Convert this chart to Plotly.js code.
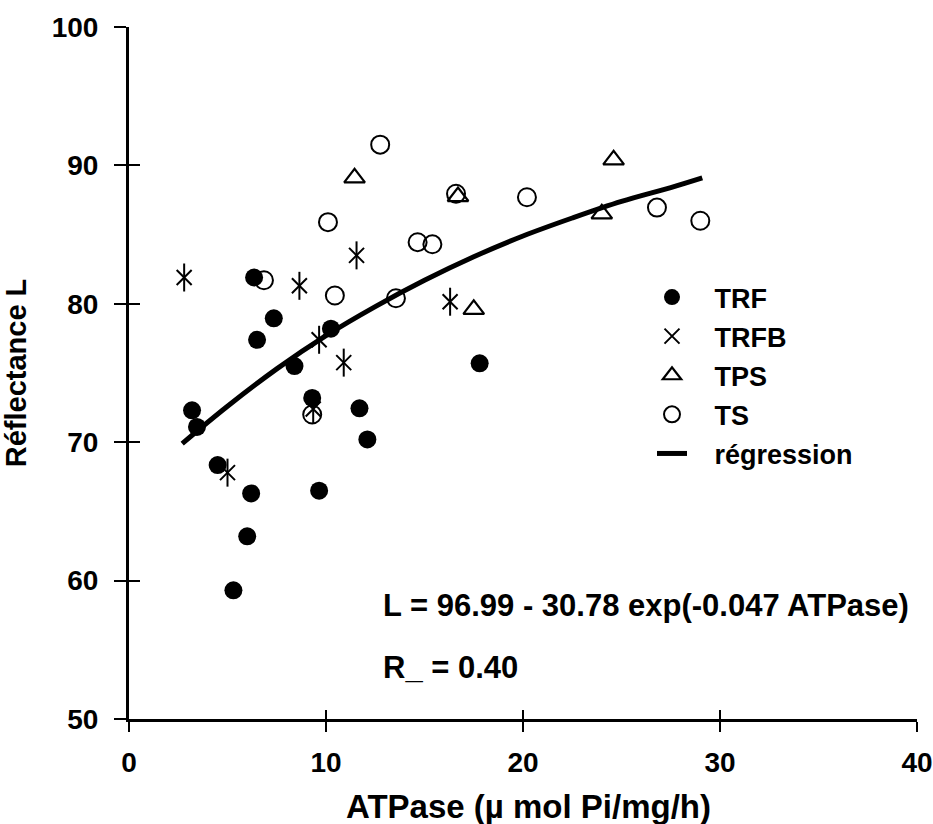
<!DOCTYPE html>
<html>
<head>
<meta charset="utf-8">
<script src="https://cdn.plot.ly/plotly-3.0.1.min.js"></script>
<style>html,body{margin:0;padding:0;background:#fff;}#chart{width:933px;height:824px;}</style>
</head>
<body>
<div id="chart"></div>
<script>
// TRF (filled circles)
const trfX = [3.2, 3.45, 4.5, 5.3, 6.0, 6.2, 6.35, 6.5, 7.35, 8.4, 9.3, 9.65, 10.25, 11.7, 12.1, 17.8];
const trfY = [72.3, 71.1, 68.35, 59.3, 63.2, 66.3, 81.9, 77.4, 78.95, 75.5, 73.2, 66.5, 78.2, 72.45, 70.2, 75.7];
// TRFB (asterisks)
const trfbX = [2.8, 5.0, 8.65, 9.35, 9.65, 10.9, 11.55, 16.3];
const trfbY = [81.9, 67.8, 81.3, 72.4, 77.4, 75.75, 83.5, 80.15];
// TPS (open triangles)
const tpsX = [11.45, 16.7, 17.5, 24.0, 24.6];
const tpsY = [89.1, 87.75, 79.6, 86.5, 90.4];
// TS (open circles)
const tsX = [6.85, 9.3, 10.1, 10.45, 12.75, 13.55, 14.65, 15.4, 16.6, 20.2, 26.8, 29.0];
const tsY = [81.7, 72.0, 85.9, 80.6, 91.5, 80.4, 84.45, 84.3, 87.95, 87.7, 86.95, 86.0];
// regression curve, points
const regX = [2.7, 5, 7.5, 10, 12.5, 15, 17.5, 20, 22.5, 25, 27.5, 29.1];
const regY = [69.9, 72.6, 75.3, 77.7, 79.8, 81.7, 83.4, 84.9, 86.2, 87.4, 88.4, 89.1];

const xTicks = [0, 10, 20, 30, 40];
const yTicks = [50, 60, 70, 80, 90, 100];
const seriesNames = ['TRF', 'TRFB', 'TPS', 'TS', 'r\u00e9gression'];
const xTitle = 'ATPase (\u00b5 mol Pi/mg/h)';
const yTitle = 'R\u00e9flectance L';
const eqText = 'L = 96.99 - 30.78 exp(-0.047 ATPase)';
const rText = 'R_ = 0.40';

const FONT = 'Arial, "Liberation Sans", sans-serif';
const pad = '\u00a0\u00a0\u00a0';
const b = s => '<b>' + s + '</b>';

const traces = [
  {x: trfX, y: trfY, mode: 'markers', type: 'scatter', name: b(pad + seriesNames[0]), legendgroup: 'a',
   marker: {symbol: 'circle', size: 18, color: '#000'}},
  {x: trfbX, y: trfbY, mode: 'markers', type: 'scatter', name: b(pad + seriesNames[1]), legendgroup: 'b',
   marker: {symbol: 'x-thin-open', size: 15, color: '#000', line: {color: '#000', width: 2}}},
  {x: trfbX, y: trfbY, mode: 'markers', type: 'scatter', name: seriesNames[1], legendgroup: 'b', showlegend: false,
   marker: {symbol: 'line-ns-open', size: 20, color: '#000', line: {color: '#000', width: 2}}},
  {x: tpsX, y: tpsY, mode: 'markers', type: 'scatter', name: b(pad + seriesNames[2]), legendgroup: 'c',
   marker: {symbol: 'triangle-up-open', size: 18, color: '#000', line: {color: '#000', width: 2.2}}},
  {x: tsX, y: tsY, mode: 'markers', type: 'scatter', name: b(pad + seriesNames[3]), legendgroup: 'd',
   marker: {symbol: 'circle-open', size: 18, color: '#000', line: {color: '#000', width: 2}}},
  {x: regX, y: regY, mode: 'lines', type: 'scatter', name: b(pad + seriesNames[4]), legendgroup: 'e',
   line: {color: '#000', width: 5, shape: 'spline'}},
  // empty trace that carries the overlay axes (inner half of the crossing ticks)
  {x: [], y: [], xaxis: 'x2', yaxis: 'y2', mode: 'markers', type: 'scatter', showlegend: false, hoverinfo: 'skip'}
];

const axisCommon = {showgrid: false, zeroline: false, tickcolor: '#000', tickwidth: 2};

const layout = {
  width: 933, height: 824,
  margin: {l: 129, r: 16, t: 27, b: 105},
  paper_bgcolor: '#fff', plot_bgcolor: '#fff',
  font: {family: FONT, color: '#000', size: 22},
  showlegend: true,
  legend: {x: (652 - 129) / 788, y: 1 - (273 - 27) / 692, xanchor: 'left', yanchor: 'top',
           font: {family: FONT, size: 27, color: '#000', weight: 700},
           bgcolor: 'rgba(0,0,0,0)', tracegroupgap: 1, itemsizing: 'trace'},
  xaxis: Object.assign({}, axisCommon, {range: [0, 40], tickvals: xTicks, ticktext: xTicks.map(v => b(v)),
          showline: true, linecolor: '#000', linewidth: 3,
          ticks: 'outside', ticklen: 10, ticklabelstandoff: 6,
          tickfont: {family: FONT, size: 28, weight: 700}}),
  yaxis: Object.assign({}, axisCommon, {range: [50, 100], tickvals: yTicks, ticktext: yTicks.map(v => b(v)),
          showline: true, linecolor: '#000', linewidth: 3,
          ticks: 'outside', ticklen: 12, ticklabelstandoff: 10,
          tickfont: {family: FONT, size: 28, weight: 700},
          title: {text: b(yTitle), standoff: 18, font: {family: FONT, size: 29, weight: 700}}}),
  xaxis2: Object.assign({}, axisCommon, {range: [0, 40], tickvals: xTicks, overlaying: 'x', anchor: 'y2',
          showline: false, showticklabels: false, ticks: 'inside', ticklen: 9}),
  yaxis2: Object.assign({}, axisCommon, {range: [50, 100], tickvals: yTicks, overlaying: 'y', anchor: 'x2',
          showline: false, showticklabels: false, ticks: 'inside', ticklen: 11}),
  annotations: [
    {xref: 'paper', yref: 'paper', x: (528 - 129) / 788, y: -(806 - 719) / 692, xanchor: 'center', yanchor: 'middle',
     text: b(xTitle), showarrow: false, font: {family: FONT, size: 33, weight: 700}},
    {xref: 'paper', yref: 'paper', x: (381 - 129) / 788, y: 1 - (605 - 27) / 692, xanchor: 'left', yanchor: 'middle',
     text: b(eqText), showarrow: false, font: {family: FONT, size: 31, weight: 700}},
    {xref: 'paper', yref: 'paper', x: (381 - 129) / 788, y: 1 - (667 - 27) / 692, xanchor: 'left', yanchor: 'middle',
     text: b(rText), showarrow: false, font: {family: FONT, size: 31, weight: 700}}
  ]
};

Plotly.newPlot('chart', traces, layout, {displayModeBar: false, staticPlot: true});
</script>
</body>
</html>
